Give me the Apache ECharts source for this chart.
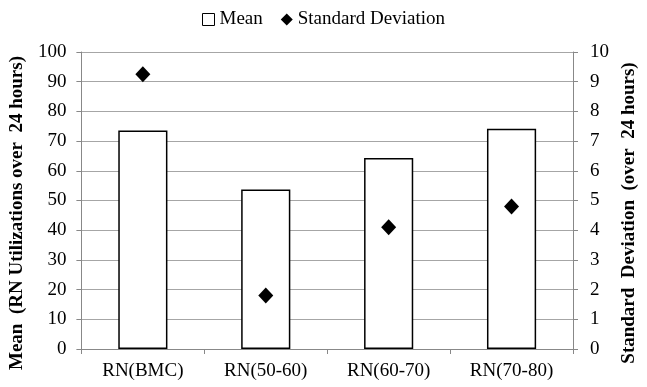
<!DOCTYPE html>
<html>
<head>
<meta charset="utf-8">
<script src="https://cdn.jsdelivr.net/npm/echarts@6/dist/echarts.min.js"></script>
<style>
html, body { margin: 0; padding: 0; background: #fff; }
#container { width: 647px; height: 387px; }
</style>
</head>
<body>
<div id="container"></div>
<script>
var categories = ['RN(BMC)', 'RN(50-60)', 'RN(60-70)', 'RN(70-80)'];
var meanValues = [73.6, 53.7, 64.3, 74.2];
var sdValues = [9.25, 1.8, 4.1, 4.8];

var dom = document.getElementById('container');
var chart = echarts.init(dom, null, { renderer: 'canvas' });

var serif = 'Liberation Serif';
var gridColor = '#a6a6a6';

var option = {
    animation: false,
    backgroundColor: '#fff',
    legend: {
        top: 5,
        left: 'center',
        itemGap: 18,
        itemWidth: 12,
        itemHeight: 12,
        textStyle: { fontFamily: serif, fontSize: 19, color: '#000' },
        data: [
            { name: 'Mean', icon: 'rect', itemStyle: { color: '#fff', borderColor: '#000', borderWidth: 1 } },
            { name: 'Standard Deviation', icon: 'diamond' }
        ]
    },
    grid: { left: 80.5, right: 74, top: 52, bottom: 38 },
    xAxis: {
        type: 'category',
        data: categories,
        axisLine: { lineStyle: { color: '#888', width: 1 } },
        axisTick: { show: true, length: 5, lineStyle: { color: '#888' } },
        axisLabel: { fontFamily: serif, fontSize: 19, color: '#000', margin: 13 }
    },
    yAxis: [
        {
            type: 'value',
            min: 0, max: 100, interval: 10,
            name: 'Mean  (RN Utilizations over  24 hours)',
            nameLocation: 'middle',
            nameGap: 50,
            nameTextStyle: { fontFamily: serif, fontSize: 19, fontWeight: 'bold', color: '#000', padding: [0, 25, 0, 0] },
            axisLine: { show: true, lineStyle: { color: '#888' } },
            axisTick: { show: true, length: 5, lineStyle: { color: '#888' } },
            axisLabel: { fontFamily: serif, fontSize: 19, color: '#000', margin: 15 },
            splitLine: { show: true, lineStyle: { color: gridColor, width: 1 } }
        },
        {
            type: 'value',
            min: 0, max: 10, interval: 1,
            name: 'Standard  Deviation  (over  24 hours)',
            nameLocation: 'middle',
            nameGap: 45,
            nameRotate: 90,
            nameTextStyle: { fontFamily: serif, fontSize: 19, fontWeight: 'bold', color: '#000', padding: [0, 25, 0, 0] },
            axisLine: { show: true, lineStyle: { color: '#888' } },
            axisTick: { show: true, length: 5, lineStyle: { color: '#888' } },
            axisLabel: { fontFamily: serif, fontSize: 19, color: '#000', margin: 17 },
            splitLine: { show: false }
        }
    ],
    series: [
        {
            name: 'Mean',
            type: 'bar',
            data: meanValues,
            barWidth: '40%',
            itemStyle: { color: '#fff', borderColor: '#000', borderWidth: 1.5 }
        },
        {
            name: 'Standard Deviation',
            type: 'scatter',
            yAxisIndex: 1,
            data: sdValues,
            symbol: 'diamond',
            symbolSize: [15, 16],
            itemStyle: { color: '#000', opacity: 1 }
        }
    ]
};

chart.setOption(option);
window.addEventListener('resize', chart.resize);
</script>
</body>
</html>
